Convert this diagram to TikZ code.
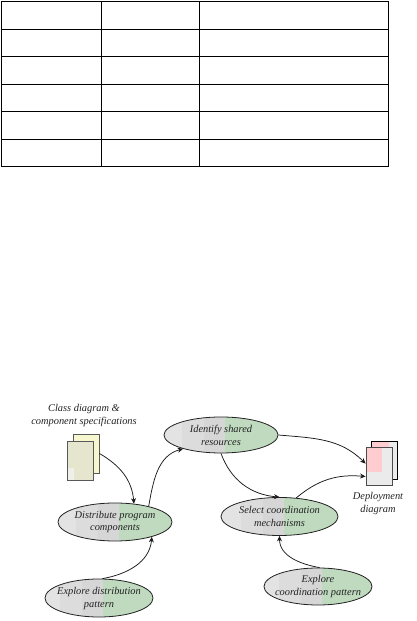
\documentclass[tikz,border=0pt]{standalone}
\usepackage{fontspec}
\setmainfont{Liberation Serif}
\usetikzlibrary{arrows.meta,shapes.geometric}
\definecolor{banda}{HTML}{E3E3E3}
\definecolor{bandb}{HTML}{DCDCDC}
\definecolor{bandc}{HTML}{D6D6D6}
\definecolor{bandg}{HTML}{BFDABF}
\definecolor{pagey}{HTML}{F6F6CF}
\definecolor{pagef}{HTML}{E6E6CF}
\definecolor{pagel}{HTML}{F0F0EA}
\definecolor{pageg}{HTML}{EBEBEB}
\definecolor{pink}{HTML}{FFCCD0}
\definecolor{inkgray}{HTML}{222222}

\begin{document}
\begin{tikzpicture}[
  x=1pt,y=1pt,
  proc/.style={ellipse,draw=inkgray,line width=0.8pt,minimum width=114pt,minimum height=38pt,inner sep=-7pt,
    align=center,text=inkgray,font=\fontsize{10.4}{13}\selectfont\itshape,
    path picture={
      \fill[banda] (path picture bounding box.south west) rectangle (path picture bounding box.north east);
      \fill[bandb] ([xshift=-39pt]path picture bounding box.south) rectangle (path picture bounding box.north east);
      \fill[bandc] ([xshift=-17pt]path picture bounding box.south) rectangle (path picture bounding box.north east);
      \fill[bandg] ([xshift=4pt]path picture bounding box.south) rectangle (path picture bounding box.north east);
    }},
  lbl/.style={align=center,text=inkgray,inner sep=0pt,font=\fontsize{10.4}{13}\selectfont\itshape},
  sheet/.style={rectangle,draw=#1,line width=0.9pt,minimum width=26pt,minimum height=38pt,inner sep=0pt},
  arr/.style={-{Stealth[length=5.5pt,width=5pt]},line width=0.75pt,black!90}
]
\useasboundingbox (0,0) rectangle (417,621);
% table
\foreach \xa/\xb in {1.5/101,101/199,199/388}
  \foreach \ya/\yb in {1.5/29,29/56,56/84,84/111,111/139,139/166}
    \draw[line width=0.9pt] (\xa,621-\ya) rectangle (\xb,621-\yb);
% input pages
\node[lbl] (clslabel) at (84,205.5) {Class diagram \&\\component specifications};
\node[sheet=black!65,fill=pagey,minimum height=39pt] (clsback) at (86,167.5) {};
\node[sheet=black!65,fill=pagef,minimum height=39pt,
  path picture={\fill[pagel] (path picture bounding box.south west) rectangle ++(7,12);}] (clsfront) at (80,160.5) {};
% output pages
\node[sheet=black,fill=pageg,
  path picture={\fill[pink] (path picture bounding box.north west) rectangle ++(17,-31);}] (depback) at (384.5,161) {};
\node[sheet=black!70,fill=pageg,
  path picture={\fill[pink] (path picture bounding box.north west) rectangle ++(16,-25);}] (depfront) at (379,155) {};
\node[lbl] (deplabel) at (378,117) {Deployment\\diagram};
% activities
\node[proc] (dist) at (115,99) {Distribute program\\components};
\node[proc,minimum width=108pt] (expd) at (99,23) {Explore distribution\\pattern};
\node[proc,minimum height=36pt] (ident) at (221,186) {Identify shared\\resources};
\node[proc,minimum width=117pt] (sel) at (279.5,104.5) {Select coordination\\mechanisms};
\node[proc,minimum width=108pt,minimum height=37pt] (expc) at (318,34.5) {Explore\\coordination pattern};

\draw[arr] (clsback.east) to[out=-30,in=95] (dist.44);
\draw[arr] (dist.25) to[out=80,in=195] (ident.200);
\draw[arr] (expd.80) to[out=10,in=-95] (dist.-22);
\draw[arr] (ident.east) to[out=-5,in=135] (depfront.170);
\draw[arr] (ident.-90) to[out=-70,in=175] (sel.90);
\draw[arr] (sel.48) to[out=40,in=175] (depfront.218);
\draw[arr] (expc.85) to[out=170,in=-90] (sel.-90);
\end{tikzpicture}
\end{document}
